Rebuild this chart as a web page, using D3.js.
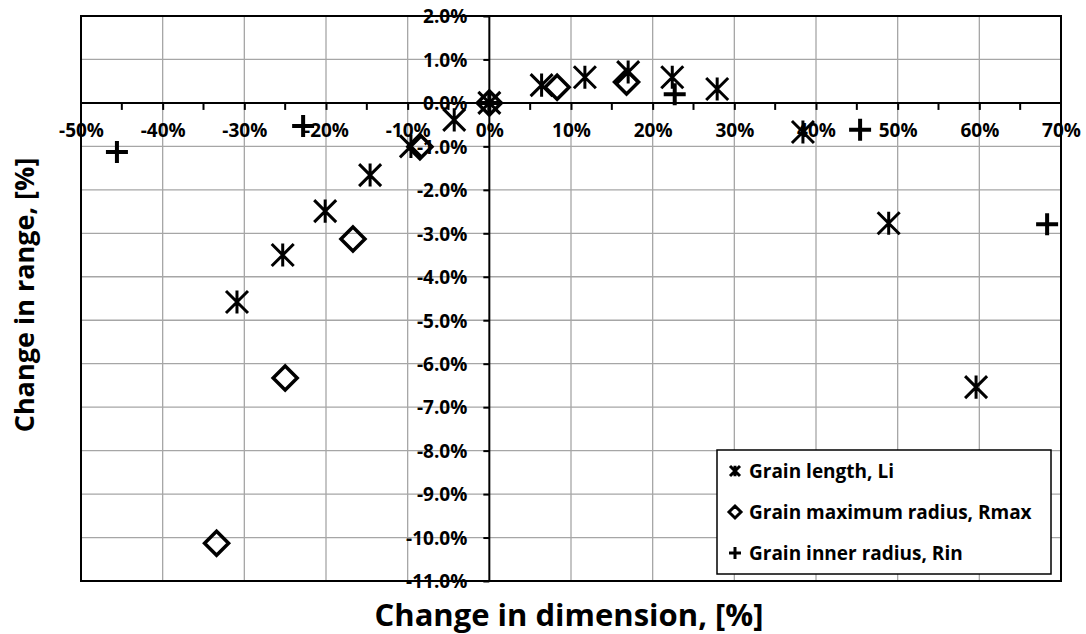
<!DOCTYPE html>
<html>
<head>
<meta charset="utf-8">
<script src="https://cdn.jsdelivr.net/npm/d3@7"></script>
<style>
  html, body { margin: 0; padding: 0; background: #fff; }
  svg { display: block; font-family: "Open Sans", sans-serif; }
</style>
</head>
<body>
<div id="vis"></div>
<script>

/* Data */
/* ---- */

var xTicks = [-50, -40, -30, -20, -10, 0, 10, 20, 30, 40, 50, 60, 70];
var yTicks = [2, 1, 0, -1, -2, -3, -4, -5, -6, -7, -8, -9, -10, -11];

// Grain length, Li
var lengthX = [-30.9, -25.3, -20.1, -14.6, -9.6, -4.3, 0, 6.4, 11.7, 17.0, 22.4, 27.9, 38.4, 48.9, 59.6];
var lengthY = [-4.58, -3.50, -2.49, -1.66, -1.00, -0.39, 0, 0.41, 0.59, 0.71, 0.59, 0.32, -0.67, -2.77, -6.54];

// Grain maximum radius, Rmax
var radiusX = [-33.4, -25.0, -16.7, -8.5, 0, 8.3, 16.8];
var radiusY = [-10.13, -6.33, -3.13, -1.01, 0, 0.36, 0.48];

// Grain inner radius, Rin
var innerX = [-45.6, -22.8, 0, 22.7, 45.4, 68.3];
var innerY = [-1.13, -0.53, 0, 0.20, -0.62, -2.79];

var seriesNames = ['Grain length, Li', 'Grain maximum radius, Rmax', 'Grain inner radius, Rin'];


/* Setup */
/* ----- */

var width = 1086, height = 634;
var plot = { left: 81, right: 1061, top: 16, bottom: 581 };

var svg = d3.select('#vis').append('svg')
    .attr('width', width)
    .attr('height', height);

var x = d3.scaleLinear().domain([-50, 70]).range([plot.left, plot.right]);
var y = d3.scaleLinear().domain([2, -11]).range([plot.top, plot.bottom]);

function zip(xs, ys) {
  return xs.map(function(d, i) { return { x: d, y: ys[i] }; });
}

// marker paths, centred on 0,0
function starPath(s) {
  return 'M' + (-s) + ',' + (-s) + 'L' + s + ',' + s +
         'M' + (-s) + ',' + s + 'L' + s + ',' + (-s) +
         'M0,' + (-s * 1.05) + 'L0,' + (s * 1.05);
}
function diamondPath(s) {
  return 'M0,' + (-s) + 'L' + s + ',0L0,' + s + 'L' + (-s) + ',0Z';
}
function plusPath(s) {
  return 'M' + (-s) + ',0L' + s + ',0M0,' + (-s) + 'L0,' + s;
}


/* Grid */
/* ---- */

var grid = svg.append('g').attr('class', 'grid');

grid.selectAll('.vgrid')
  .data(xTicks.filter(function(d) { return d !== 0; }))
  .enter().append('line')
    .attr('x1', function(d) { return x(d); })
    .attr('x2', function(d) { return x(d); })
    .attr('y1', plot.top)
    .attr('y2', plot.bottom)
    .attr('stroke', '#a6a6a6')
    .attr('stroke-width', 1.3);

grid.selectAll('.hgrid')
  .data(yTicks.filter(function(d) { return d !== 0; }))
  .enter().append('line')
    .attr('x1', plot.left)
    .attr('x2', plot.right)
    .attr('y1', function(d) { return y(d); })
    .attr('y2', function(d) { return y(d); })
    .attr('stroke', '#a6a6a6')
    .attr('stroke-width', 1.3);

svg.append('rect')
    .attr('x', plot.left)
    .attr('y', plot.top)
    .attr('width', plot.right - plot.left)
    .attr('height', plot.bottom - plot.top)
    .attr('fill', 'none')
    .attr('stroke', '#000')
    .attr('stroke-width', 2);


/* Axes */
/* ---- */

var minorX = d3.range(-45, 70, 10);

var xAxis = svg.append('g')
    .attr('transform', 'translate(0,' + y(0) + ')')
    .call(d3.axisBottom(x).tickValues(xTicks).tickSize(7).tickPadding(14)
      .tickFormat(function(d) { return d + '%'; }));

xAxis.selectAll('.tick').filter(function(d) { return d === -50 || d === 70; }).select('line').remove();

xAxis.selectAll('.minor')
  .data(minorX)
  .enter().append('line')
    .attr('class', 'minor')
    .attr('x1', function(d) { return x(d); })
    .attr('x2', function(d) { return x(d); })
    .attr('y1', 0)
    .attr('y2', 7)
    .attr('stroke', '#000')
    .attr('stroke-width', 2);

var yAxis = svg.append('g')
    .attr('transform', 'translate(' + x(0) + ',0)')
    .call(d3.axisLeft(y).tickValues(yTicks).tickSize(6).tickPadding(16)
      .tickFormat(function(d) { return d.toFixed(1) + '%'; }));

[xAxis, yAxis].forEach(function(ax) {
  ax.select('.domain').attr('stroke', '#000').attr('stroke-width', 2);
  ax.selectAll('.tick line').attr('stroke', '#000').attr('stroke-width', 2);
  ax.selectAll('.tick text')
      .attr('fill', '#000')
      .style('font-family', '"Open Sans", sans-serif')
      .style('font-size', '19px')
      .style('font-weight', 700);
});

yAxis.select('.domain').attr('d', 'M0,' + plot.top + 'V' + plot.bottom);
xAxis.select('.domain').attr('d', 'M' + plot.left + ',0H' + plot.right);
yAxis.selectAll('.tick text').attr('dy', '0.36em');


/* Titles */
/* ------ */

svg.append('text')
    .attr('x', 569)
    .attr('y', 626)
    .attr('text-anchor', 'middle')
    .style('font-size', '31px')
    .style('font-weight', 700)
    .text('Change in dimension, [%]');

svg.append('text')
    .attr('transform', 'translate(34,295) rotate(-90)')
    .attr('text-anchor', 'middle')
    .style('font-size', '27px')
    .style('font-weight', 700)
    .text('Change in range, [%]');


/* Markers */
/* ------- */

var marks = svg.append('g').attr('class', 'marks');

marks.selectAll('.star')
  .data(zip(lengthX, lengthY))
  .enter().append('path')
    .attr('class', 'star')
    .attr('transform', function(d) { return 'translate(' + x(d.x) + ',' + y(d.y) + ')'; })
    .attr('d', starPath(11))
    .attr('fill', 'none')
    .attr('stroke', '#000')
    .attr('stroke-width', 3);

marks.selectAll('.diamond')
  .data(zip(radiusX, radiusY))
  .enter().append('path')
    .attr('class', 'diamond')
    .attr('transform', function(d) { return 'translate(' + x(d.x) + ',' + y(d.y) + ')'; })
    .attr('d', diamondPath(12))
    .attr('fill', 'none')
    .attr('stroke', '#000')
    .attr('stroke-width', 3.5);

marks.selectAll('.plus')
  .data(zip(innerX, innerY))
  .enter().append('path')
    .attr('class', 'plus')
    .attr('transform', function(d) { return 'translate(' + x(d.x) + ',' + y(d.y) + ')'; })
    .attr('d', plusPath(11))
    .attr('fill', 'none')
    .attr('stroke', '#000')
    .attr('stroke-width', 4);


/* Legend */
/* ------ */

var legend = svg.append('g').attr('transform', 'translate(717,450)');

legend.append('rect')
    .attr('width', 334)
    .attr('height', 124)
    .attr('fill', '#fff')
    .attr('stroke', '#000')
    .attr('stroke-width', 1.5);

var legendPaths = [starPath(5), diamondPath(6), plusPath(6)];
var legendWidths = [3, 3, 3];

var items = legend.selectAll('.item')
  .data(seriesNames)
  .enter().append('g')
    .attr('class', 'item')
    .attr('transform', function(d, i) { return 'translate(0,' + (21 + i * 41) + ')'; });

items.append('path')
    .attr('transform', 'translate(18,0)')
    .attr('d', function(d, i) { return legendPaths[i]; })
    .attr('fill', 'none')
    .attr('stroke', '#000')
    .attr('stroke-width', function(d, i) { return legendWidths[i]; });

items.append('text')
    .attr('x', 32)
    .attr('dy', '0.36em')
    .style('font-size', '19px')
    .style('font-weight', 700)
    .text(function(d) { return d; });

</script>
</body>
</html>
